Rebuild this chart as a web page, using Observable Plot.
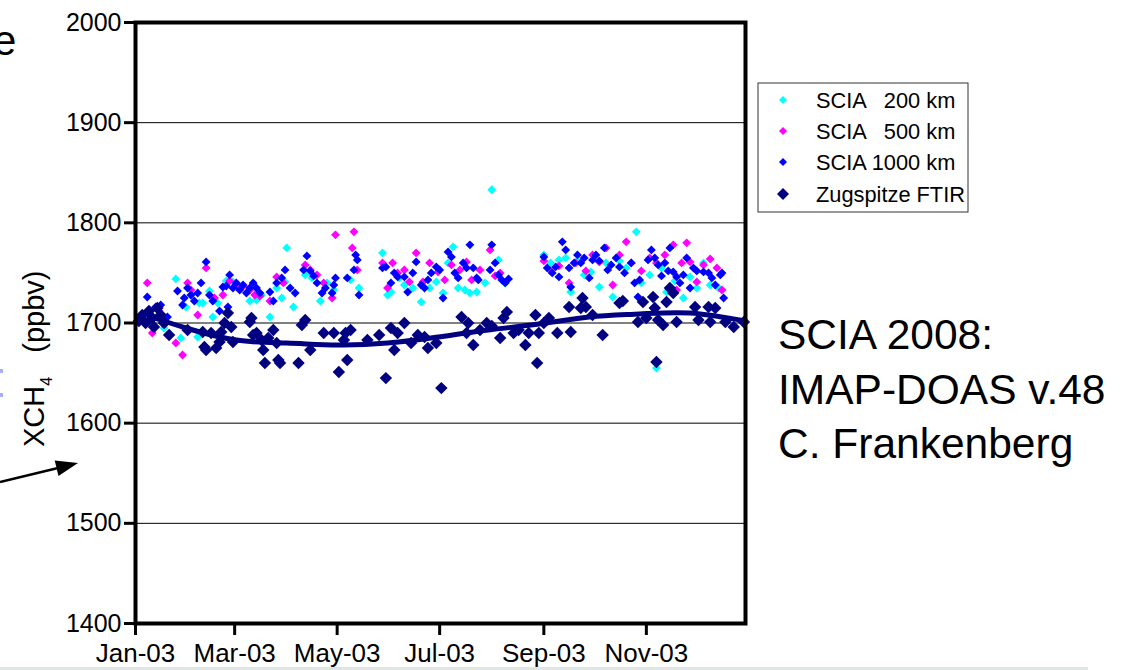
<!DOCTYPE html>
<html><head><meta charset="utf-8">
<script src="https://cdn.jsdelivr.net/npm/d3@7"></script>
<script src="https://cdn.jsdelivr.net/npm/@observablehq/plot@0.6"></script>
<style>
html,body{margin:0;padding:0;background:#fff;}
#chart{position:relative;width:1130px;height:670px;overflow:hidden;}
svg text{white-space:pre;}
</style></head><body><div id="chart"></div>
<script>
// ---- data ----
const seriesNames = ["SCIA   200 km", "SCIA   500 km", "SCIA 1000 km", "Zugspitze FTIR"];
const seriesColors = ["#00ffff", "#ff00ff", "#0000ff", "#000080"];
const yTicks = [1400, 1500, 1600, 1700, 1800, 1900, 2000];
const xTickDates = ["2003-01-01", "2003-03-01", "2003-05-01", "2003-07-01", "2003-09-01", "2003-11-01"];
const xTickLabels = ["Jan-03", "Mar-03", "May-03", "Jul-03", "Sep-03", "Nov-03"];
const yLabel = ["XCH", "4", "   (ppbv)"];
const noteLines = ["SCIA 2008:", "IMAP-DOAS v.48", "C. Frankenberg"];

// [day of 2003 (0 = 1 Jan), XCH4 ppbv]
const scia200 = [[5,1708],[9,1700],[13,1705],[17,1695],[24,1744],[27,1685],[30,1716],[33,1728],[37,1686],[38,1720],[40,1720],[44,1732],[46,1706],[49,1720],[54,1742],[58,1741],[63,1735],[68,1722],[72,1723],[75,1728],[80,1706],[84,1735],[87,1725],[89,1741],[90,1775],[94,1716],[101,1748],[105,1745],[110,1722],[114,1740],[118,1733],[128,1743],[133,1735],[147,1770],[150,1728],[152,1731],[157,1745],[160,1738],[165,1735],[170,1721],[175,1735],[179,1741],[183,1730],[186,1760],[189,1776],[192,1735],[196,1733],[199,1730],[203,1731],[208,1740],[212,1833],[216,1763],[220,1740],[243,1768],[247,1760],[252,1763],[256,1765],[259,1731],[263,1762],[267,1748],[271,1751],[276,1736],[280,1760],[284,1726],[288,1762],[292,1755],[298,1791],[301,1740],[306,1748],[310,1655],[313,1755],[316,1731],[321,1742],[326,1725],[330,1746],[334,1735],[338,1760],[342,1738],[347,1735]];
const scia500 = [[7,1740],[10,1690],[14,1712],[18,1700],[24,1680],[28,1668],[31,1740],[33,1733],[37,1708],[42,1755],[47,1725],[52,1728],[56,1742],[60,1738],[64,1737],[68,1733],[71,1728],[74,1727],[80,1722],[84,1746],[88,1740],[101,1758],[104,1753],[108,1748],[112,1740],[117,1725],[119,1788],[129,1775],[130,1791],[132,1753],[147,1760],[150,1735],[153,1760],[156,1750],[160,1753],[163,1741],[167,1770],[171,1741],[175,1760],[180,1751],[184,1743],[188,1758],[193,1753],[197,1761],[200,1743],[205,1753],[211,1773],[214,1747],[217,1750],[243,1762],[247,1752],[252,1757],[258,1740],[262,1760],[268,1752],[272,1768],[276,1761],[280,1775],[284,1738],[288,1768],[292,1781],[295,1760],[301,1752],[306,1765],[310,1760],[315,1768],[320,1778],[322,1733],[325,1760],[328,1780],[330,1761],[334,1741],[338,1758],[342,1764],[346,1755],[349,1733]];
const scia1000 = [[7,1726],[11,1697],[12,1716],[15,1718],[19,1706],[25,1732],[28,1718],[29,1725],[31,1735],[33,1728],[35,1722],[37,1730],[39,1740],[42,1761],[44,1728],[46,1722],[50,1712],[52,1736],[54,1737],[55,1716],[56,1748],[58,1735],[60,1740],[62,1733],[64,1738],[66,1730],[68,1735],[70,1740],[72,1735],[74,1730],[80,1731],[82,1722],[84,1740],[87,1745],[89,1753],[92,1735],[95,1730],[100,1753],[102,1767],[104,1752],[106,1747],[108,1740],[111,1730],[113,1735],[117,1730],[118,1738],[119,1745],[126,1745],[130,1753],[131,1768],[132,1763],[133,1728],[147,1755],[149,1756],[152,1740],[154,1750],[156,1746],[160,1746],[162,1731],[165,1750],[167,1761],[170,1738],[172,1735],[174,1743],[176,1750],[179,1756],[181,1753],[183,1725],[186,1771],[188,1766],[190,1750],[192,1745],[195,1760],[197,1755],[199,1778],[201,1755],[203,1745],[204,1743],[211,1753],[212,1778],[214,1760],[216,1748],[218,1743],[220,1740],[222,1744],[243,1766],[245,1755],[248,1750],[250,1756],[252,1746],[254,1781],[256,1773],[258,1755],[259,1736],[261,1760],[263,1768],[265,1760],[267,1765],[270,1745],[272,1763],[274,1768],[276,1762],[279,1775],[281,1753],[283,1758],[286,1765],[288,1756],[291,1750],[295,1760],[297,1740],[299,1726],[300,1743],[305,1763],[307,1773],[309,1765],[311,1758],[313,1747],[315,1760],[317,1752],[318,1775],[320,1751],[322,1746],[324,1740],[326,1748],[328,1765],[330,1735],[332,1755],[334,1752],[338,1751],[341,1750],[343,1745],[345,1738],[348,1748],[349,1750],[350,1725]];
const zugspitze = [[2,1702],[4,1708],[6,1700],[8,1712],[10,1705],[11,1696],[13,1715],[15,1708],[17,1700],[20,1688],[31,1693],[40,1691],[41,1676],[42,1673],[45,1690],[48,1675],[50,1681],[51,1691],[53,1700],[55,1710],[57,1696],[58,1681],[68,1701],[69,1705],[70,1688],[72,1690],[75,1683],[76,1673],[77,1660],[79,1685],[82,1693],[84,1680],[85,1663],[86,1660],[97,1660],[99,1698],[101,1703],[104,1673],[112,1690],[118,1690],[121,1651],[124,1683],[125,1690],[126,1663],[128,1693],[138,1683],[145,1688],[149,1645],[152,1695],[154,1673],[156,1690],[160,1700],[164,1680],[168,1688],[172,1686],[174,1675],[179,1680],[182,1635],[194,1706],[197,1690],[198,1700],[201,1678],[205,1693],[209,1700],[212,1697],[217,1685],[219,1705],[221,1711],[225,1690],[228,1693],[232,1678],[234,1690],[238,1708],[239,1660],[240,1690],[243,1700],[246,1705],[251,1690],[258,1716],[259,1691],[265,1715],[266,1725],[268,1716],[272,1708],[278,1688],[288,1720],[290,1722],[299,1701],[302,1721],[304,1705],[308,1726],[309,1715],[310,1661],[311,1703],[314,1698],[316,1721],[318,1735],[320,1730],[322,1701],[333,1716],[335,1703],[341,1716],[342,1701],[345,1715],[351,1701],[356,1696],[362,1701]];
const fitDays = [8, 30, 60, 90, 120, 150, 180, 210, 240, 270, 300, 330, 363];
const fitValues = [1707, 1695, 1683, 1680, 1678, 1680, 1686, 1693, 1699, 1706, 1709, 1710, 1702];

// ---- build ----
const toDate = d => new Date(Date.UTC(2003, 0, 1 + d));
const pts = arr => arr.map(([d, v]) => ({date: toDate(d), v}));
const fit = fitDays.map((d, i) => ({date: toDate(d), v: fitValues[i]}));
const tickDates = xTickDates.map(s => new Date(s + "T00:00:00Z"));
const labelMap = new Map(tickDates.map((d, i) => [+d, xTickLabels[i]]));
const FONT = "'Liberation Sans', Arial, Helvetica, sans-serif";

const plot = Plot.plot({
  width: 1130, height: 670,
  marginLeft: 135, marginRight: 385, marginTop: 22, marginBottom: 47,
  style: {fontFamily: FONT, fontSize: "25px", color: "#000", background: "#fff", overflow: "visible"},
  x: {type: "utc", domain: [toDate(0), toDate(363)]},
  y: {domain: [1400, 2000]},
  marks: [
    Plot.ruleY(yTicks.slice(1, -1), {stroke: "#000", strokeWidth: 1}),
    Plot.dot(pts(scia200), {x: "date", y: "v", symbol: "diamond2", r: 4, fill: seriesColors[0]}),
    Plot.dot(pts(scia500), {x: "date", y: "v", symbol: "diamond2", r: 4, fill: seriesColors[1]}),
    Plot.dot(pts(scia1000), {x: "date", y: "v", symbol: "diamond2", r: 4, fill: seriesColors[2]}),
    Plot.dot(pts(zugspitze), {x: "date", y: "v", symbol: "diamond2", r: 5.6, fill: seriesColors[3]}),
    Plot.line(fit, {x: "date", y: "v", curve: "natural", stroke: seriesColors[3], strokeWidth: 5}),
    Plot.frame({stroke: "#000", strokeWidth: 4}),
    Plot.axisY({ticks: yTicks, tickFormat: d => String(d), tickSize: 11, tickPadding: 3, strokeWidth: 3, label: null, fontSize: 25}),
    Plot.axisX({ticks: tickDates, tickFormat: d => labelMap.get(+d), tickSize: 12, tickPadding: 8, strokeWidth: 3, label: null, fontSize: 26})
  ]
});
document.getElementById("chart").appendChild(plot);

const svg = d3.select(plot);
const g = svg.append("g").attr("font-family", FONT).attr("fill", "#000").attr("text-anchor", "start");

// y-axis label with subscript
const yl = g.append("text").attr("transform", "translate(44,447) rotate(-90)").attr("font-size", 29);
yl.append("tspan").text(yLabel[0]);
yl.append("tspan").attr("font-size", 16).attr("dy", 8).text(yLabel[1]);
yl.append("tspan").attr("dy", -8).text(yLabel[2]);

// note text on the right
noteLines.forEach((t, i) => {
  g.append("text").attr("x", 778).attr("y", 349 + i * 54.5).attr("font-size", 42.5).text(t);
});

// legend
const lg = g.append("g");
lg.append("rect").attr("x", 758).attr("y", 83).attr("width", 210).attr("height", 129)
  .attr("fill", "#fff").attr("stroke", "#333").attr("stroke-width", 1);
const rowY = [100, 131, 162, 194];
seriesNames.forEach((name, i) => {
  const w = i === 3 ? 12 : 8;
  lg.append("path").attr("transform", `translate(783,${rowY[i]})`)
    .attr("d", d3.symbol(d3.symbolDiamond2, Math.pow(w / 1.2525, 2))())
    .attr("fill", seriesColors[i]);
  lg.append("text").attr("x", 816).attr("y", rowY[i]).attr("dy", "0.36em").attr("font-size", 21.8).text(name);
});

// cropped slide remnants at the left edge
g.append("text").attr("x", -7).attr("y", 55).attr("font-size", 42).text("e");
g.append("line").attr("x1", 0).attr("y1", 482).attr("x2", 58).attr("y2", 468)
  .attr("stroke", "#000").attr("stroke-width", 2.5);
g.append("polygon").attr("points", "78,463 58.5,476 54.7,460.4").attr("fill", "#000");
g.append("rect").attr("x", 0).attr("y", 369).attr("width", 3).attr("height", 4).attr("fill", "#a8aef8");
g.append("rect").attr("x", 0).attr("y", 393).attr("width", 3).attr("height", 4).attr("fill", "#a8aef8");
g.append("rect").attr("x", 0).attr("y", 667).attr("width", 1088).attr("height", 3).attr("fill", "#dfe6e4");
</script></body></html>
